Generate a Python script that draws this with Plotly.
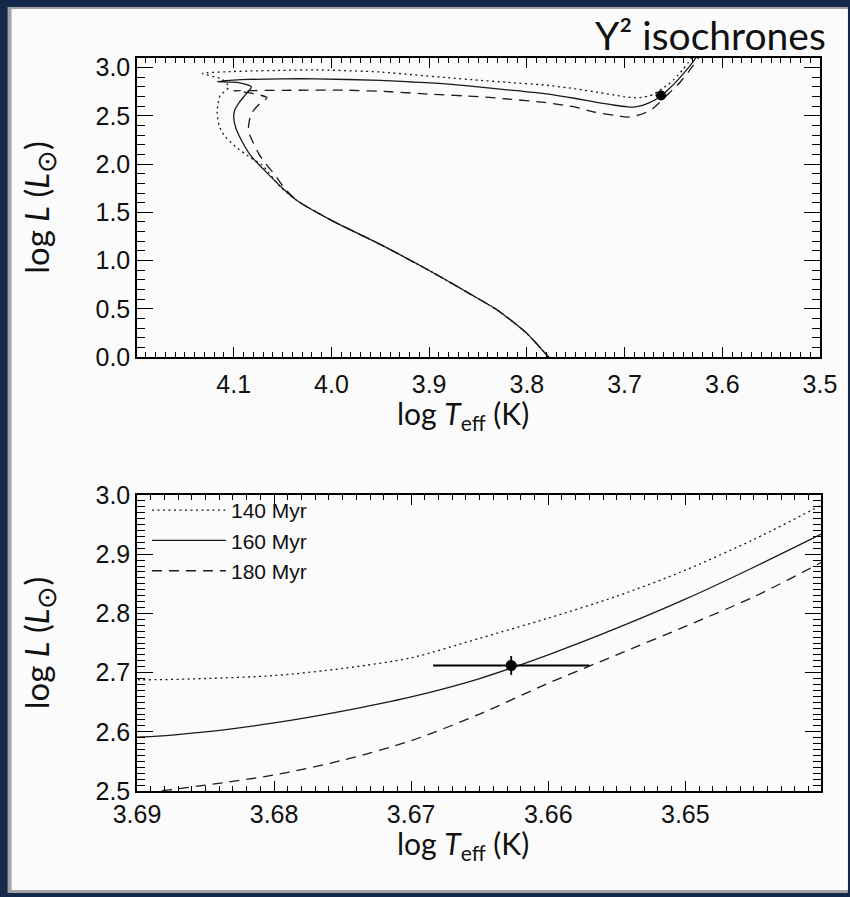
import plotly.graph_objects as go

# ---------------- data ----------------
ages = ["140 Myr", "160 Myr", "180 Myr"]

logT_140 = [3.775, 3.78, 3.80, 3.83, 3.86, 3.90, 3.95, 4.00, 4.035, 4.052, 4.071, 4.085, 4.098, 4.110, 4.115,
            4.117, 4.116, 4.114, 4.105, 4.112, 4.132, 4.10, 4.085, 4.05, 4.017, 3.95, 3.915, 3.88, 3.85, 3.82,
            3.782, 3.75, 3.725, 3.71, 3.70, 3.69, 3.685, 3.68, 3.675, 3.67, 3.665, 3.66, 3.655, 3.65, 3.645,
            3.64, 3.635, 3.63, 3.625]
logL_140 = [-0.03, 0.025, 0.245, 0.485, 0.665, 0.897, 1.167, 1.417, 1.62, 1.76, 1.99, 2.08, 2.18, 2.30, 2.40,
            2.54, 2.63, 2.71, 2.80, 2.88, 2.94, 2.96, 2.965, 2.972, 2.977, 2.955, 2.925, 2.895, 2.87, 2.848,
            2.82, 2.78, 2.74, 2.715, 2.698, 2.688, 2.690, 2.695, 2.707, 2.725, 2.758, 2.792, 2.829, 2.873, 2.925,
            2.984, 3.05, 3.12, 3.19]

logT_160 = [3.775, 3.78, 3.80, 3.83, 3.86, 3.90, 3.95, 4.00, 4.035, 4.05, 4.068, 4.082, 4.092, 4.098, 4.100,
            4.099, 4.095, 4.088, 4.082, 4.095, 4.117, 4.100, 4.085, 4.05, 4.017, 3.95, 3.915, 3.88, 3.85, 3.82,
            3.782, 3.75, 3.731, 3.71, 3.697, 3.69, 3.685, 3.68, 3.675, 3.67, 3.665, 3.66, 3.655, 3.65, 3.645,
            3.64, 3.635, 3.63, 3.625]
logL_160 = [-0.03, 0.025, 0.245, 0.485, 0.665, 0.897, 1.167, 1.417, 1.62, 1.75, 1.93, 2.08, 2.245, 2.38, 2.48,
            2.56, 2.63, 2.72, 2.80, 2.845, 2.855, 2.87, 2.878, 2.884, 2.884, 2.868, 2.85, 2.83, 2.80, 2.77,
            2.73, 2.68, 2.645, 2.61, 2.594, 2.591, 2.600, 2.615, 2.635, 2.659, 2.690, 2.730, 2.775, 2.824, 2.878,
            2.935, 2.995, 3.06, 3.13]

logT_180 = [3.775, 3.78, 3.80, 3.83, 3.86, 3.90, 3.95, 4.00, 4.035, 4.048, 4.058, 4.067, 4.074, 4.080, 4.085,
            4.084, 4.081, 4.074, 4.066, 4.085, 4.100, 4.085, 4.05, 3.983, 3.94, 3.898, 3.85, 3.82, 3.782, 3.75,
            3.731, 3.71, 3.697, 3.69, 3.685, 3.68, 3.675, 3.67, 3.665, 3.66, 3.655, 3.65, 3.645, 3.64, 3.635,
            3.63, 3.625, 3.62]
logL_180 = [-0.03, 0.025, 0.245, 0.485, 0.665, 0.897, 1.167, 1.417, 1.62, 1.75, 1.89, 2.00, 2.10, 2.22, 2.34,
            2.45, 2.538, 2.62, 2.69, 2.74, 2.76, 2.762, 2.765, 2.766, 2.75, 2.724, 2.70, 2.675, 2.64, 2.59,
            2.54, 2.505, 2.488, 2.496, 2.510, 2.527, 2.552, 2.585, 2.630, 2.682, 2.730, 2.778, 2.828, 2.887, 2.95,
            3.02, 3.09, 3.16]

star_logT = [3.6627]
star_logL = [2.712]
star_logT_err = 0.0057
star_logL_err = 0.016

# ---------------- figure ----------------
W, H = 850, 897
ML, MR, MT, MB = 137, 26, 58, 106
PW, PH = W - ML - MR, H - MT - MB


def px(x):
    return (x - ML) / PW


def py(y):
    return (H - MB - y) / PH


series = [
    (ages[0], logT_140, logL_140, "2px,3.5px"),
    (ages[1], logT_160, logL_160, "solid"),
    (ages[2], logT_180, logL_180, "10px,7px"),
]

fig = go.Figure()
for name, T, L, dash in series:
    fig.add_trace(go.Scatter(x=T, y=L, mode="lines", name=name, showlegend=False,
                             line=dict(color="#1a1a1a", width=1.3, dash=dash, shape="spline", smoothing=0.6),
                             xaxis="x", yaxis="y"))
    fig.add_trace(go.Scatter(x=T, y=L, mode="lines", name=name, showlegend=True,
                             line=dict(color="#1a1a1a", width=1.3, dash=dash, shape="spline", smoothing=0.8),
                             xaxis="x2", yaxis="y2"))

fig.add_trace(go.Scatter(x=star_logT, y=star_logL, mode="markers", showlegend=False,
                         marker=dict(color="black", size=10),
                         error_x=dict(type="constant", value=star_logT_err, width=0, thickness=1.5, color="black"),
                         error_y=dict(type="constant", value=star_logL_err, width=0, thickness=1.5, color="black"),
                         xaxis="x", yaxis="y"))
fig.add_trace(go.Scatter(x=star_logT, y=star_logL, mode="markers", showlegend=False,
                         marker=dict(color="black", size=11),
                         error_x=dict(type="constant", value=star_logT_err, width=0, thickness=1.8, color="black"),
                         error_y=dict(type="constant", value=star_logL_err, width=0, thickness=1.8, color="black"),
                         xaxis="x2", yaxis="y2"))

tickfont = dict(family="Liberation Sans, Arial", size=25, color="#111")
xtitlefont = dict(family="Lato", size=30, color="#111")
ytitlefont = dict(family="Lato", size=33, color="#111")
xtitle = "log <i>T</i><sub>eff</sub> (K)"
ytitle = "log <i>L</i> (<i>L</i><sub><span style='font-size:27px'>⊙</span></sub>)"

common = dict(showline=True, linecolor="black", linewidth=1.5, mirror="ticks", ticks="inside",
              tickcolor="black", tickwidth=1.3, showgrid=False, zeroline=False, tickfont=tickfont,
              tickmode="linear")

fig.update_layout(
    width=W, height=H,
    margin=dict(l=ML, r=MR, t=MT, b=MB),
    paper_bgcolor="#13284A",
    plot_bgcolor="white",
    xaxis=dict(domain=[0, 0.9985], range=[4.199, 3.5], anchor="y", tick0=3.5, dtick=0.1, tickformat=".1f",
               ticklen=10, ticklabelstandoff=4,
               minor=dict(ticks="inside", ticklen=5, tickmode="linear", dtick=0.01, tick0=3.5,
                          tickcolor="black", tickwidth=1), **common),
    yaxis=dict(domain=[py(357), 1.0], range=[0, 3.1], anchor="x", tick0=0, dtick=0.5, tickformat=".1f",
               ticklen=16,
               minor=dict(ticks="inside", ticklen=8, tickmode="linear", dtick=0.1, tick0=0,
                          tickcolor="black", tickwidth=1),
               title=dict(text=ytitle, font=ytitlefont, standoff=36), **common),
    xaxis2=dict(domain=[0, 1], range=[3.69, 3.6401], anchor="y2", tick0=3.69, dtick=0.01, tickformat=".2f",
                ticklen=10, ticklabelstandoff=0,
                minor=dict(ticks="inside", ticklen=5, tickmode="linear", dtick=0.001, tick0=3.69,
                           tickcolor="black", tickwidth=1), **common),
    yaxis2=dict(domain=[0, py(495)], range=[2.5, 3.0], anchor="x2", tick0=2.5, dtick=0.1, tickformat=".1f",
                ticklen=16,
                minor=dict(ticks="inside", ticklen=8, tickmode="linear", dtick=0.01, tick0=2.5,
                           tickcolor="black", tickwidth=1),
                title=dict(text=ytitle, font=ytitlefont, standoff=36), **common),
    legend=dict(x=px(147), y=py(490), xanchor="left", yanchor="top", bgcolor="rgba(0,0,0,0)",
                font=dict(family="Liberation Sans, Arial", size=21, color="#111"),
                itemwidth=74, tracegroupgap=0),
    shapes=[
        dict(type="rect", xref="paper", yref="paper", x0=px(7), x1=px(851), y0=py(893), y1=py(7),
             fillcolor="#A3A3A3", line=dict(width=0), layer="below"),
        dict(type="rect", xref="paper", yref="paper", x0=px(11), x1=px(851), y0=py(890), y1=py(9),
             fillcolor="#FBFBFB", line=dict(width=0), layer="below"),
    ],
    annotations=[
        dict(text="Y² isochrones", xref="paper", yref="paper", x=px(831), y=py(35), xanchor="right",
             yanchor="middle", showarrow=False, font=dict(family="Lato", size=39, color="#111")),
        dict(text=xtitle, xref="paper", yref="paper", x=px(464), y=py(415), xanchor="center",
             yanchor="middle", showarrow=False, font=xtitlefont),
        dict(text=xtitle, xref="paper", yref="paper", x=px(464), y=py(845), xanchor="center",
             yanchor="middle", showarrow=False, font=xtitlefont),
    ],
)

fig.write_html("out.html", config={"displayModeBar": False},
               post_script="document.body.style.margin='0';document.body.style.overflow='hidden';")
